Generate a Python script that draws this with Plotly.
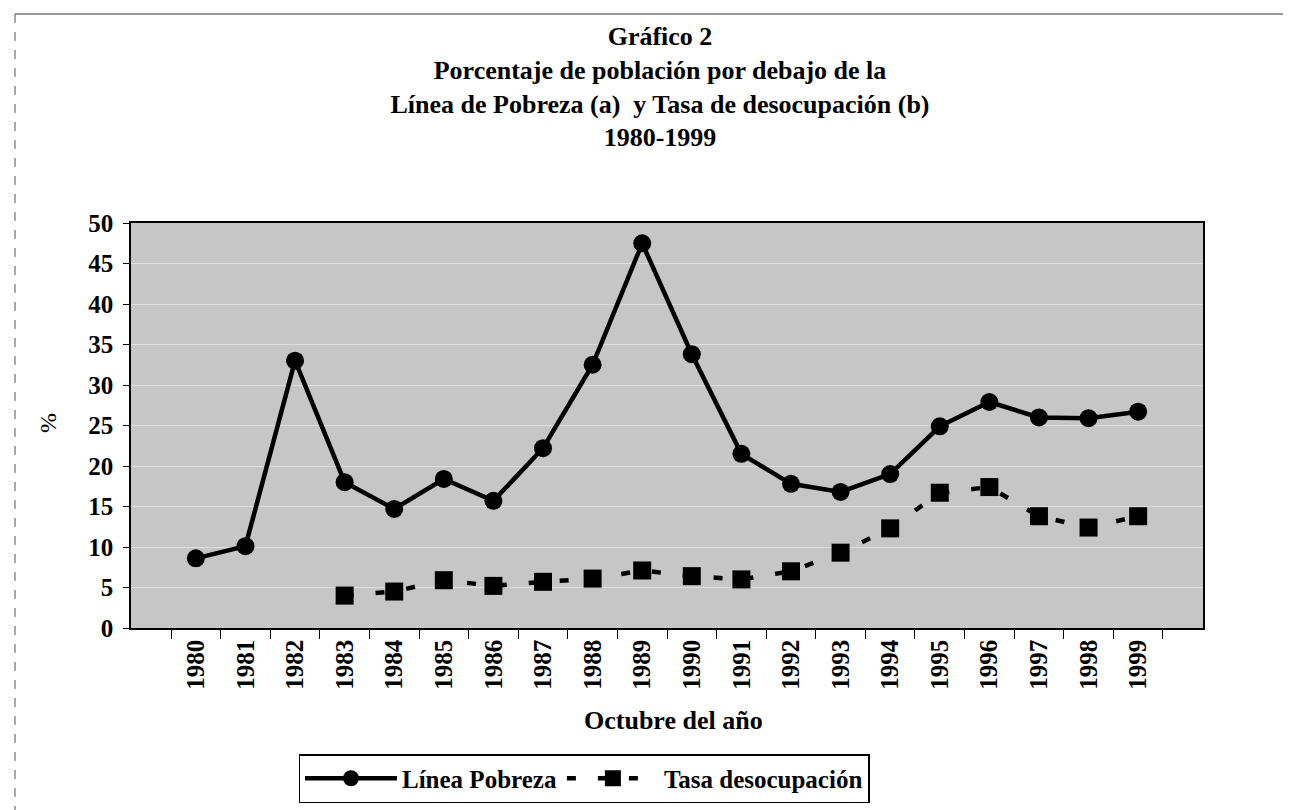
import plotly.graph_objects as go

years = [str(y) for y in range(1980, 2000)]
pobreza = [8.6, 10.1, 33.0, 18.0, 14.7, 18.4, 15.7, 22.2, 32.5, 47.5,
           33.8, 21.5, 17.8, 16.8, 19.0, 24.9, 27.9, 26.0, 25.9, 26.7]
desocupacion = [None, None, None, 4.0, 4.5, 5.9, 5.2, 5.7, 6.1, 7.1,
                6.4, 6.0, 7.0, 9.3, 12.3, 16.7, 17.4, 13.8, 12.4, 13.8]
y_ticks = list(range(0, 55, 5))

title_lines = ["Gráfico 2",
               "Porcentaje de población por debajo de la",
               "Línea de Pobreza (a)  y Tasa de desocupación (b)",
               "1980-1999"]

W, H = 1291, 810
L, R, T, B = 123, 1195, 215, 620
pw, ph = R - L, B - T

def px(x):
    return (x - L) / pw

def py(y):
    return (B - y) / ph

serif = "Liberation Serif"
tickfont = dict(family=serif, size=25, color="black", weight="bold")

fig = go.Figure()
fig.add_trace(go.Scatter(
    x=years, y=pobreza, name="Línea Pobreza", mode="lines+markers",
    line=dict(color="black", width=4.5),
    marker=dict(symbol="circle", size=18, color="black"),
))
fig.add_trace(go.Scatter(
    x=years, y=desocupacion, name="Tasa desocupación", mode="lines+markers",
    line=dict(color="black", width=4.5, dash="9px,22px"),
    marker=dict(symbol="square", size=18, color="black"),
    connectgaps=False,
))

fig.update_layout(
    width=W, height=H,
    margin=dict(l=L, r=W - R, t=T, b=H - B, autoexpand=False),
    paper_bgcolor="white",
    plot_bgcolor="#c6c6c6",
    title=dict(
        text="<br>".join(title_lines),
        font=dict(family=serif, size=26, color="black", weight="bold"),
        x=px(652), xref="paper", xanchor="center",
        y=1 - 37 / H, yref="container", yanchor="top",
    ),
    xaxis=dict(
        type="category", tickangle=-90, tickfont=tickfont,
        showline=True, linecolor="black", linewidth=1.5, mirror=True,
        ticks="outside", ticklen=9, tickcolor="black", tickson="boundaries",
        showgrid=False, automargin=False,
    ),
    yaxis=dict(
        range=[0, 50], tickvals=y_ticks, tickfont=tickfont,
        showline=True, linecolor="black", linewidth=1.5, mirror=True,
        ticks="outside", ticklen=6, tickcolor="black", ticklabelstandoff=5,
        showgrid=True, gridcolor="#dedede", gridwidth=1, zeroline=False,
        automargin=False,
    ),
    showlegend=True,
    legend=dict(
        orientation="h", x=px(576), xanchor="center", y=py(746), yanchor="top",
        font=dict(family=serif, size=25, color="black", weight="bold"),
        bordercolor="black", borderwidth=1.5, bgcolor="white",
        itemwidth=92, traceorder="normal",
    ),
    annotations=[
        dict(text="%", x=px(40), y=py(415), xref="paper", yref="paper",
             textangle=-90, showarrow=False, xanchor="center", yanchor="middle",
             font=dict(family=serif, size=24, color="black")),
        dict(text="Octubre del año", x=px(665), y=py(712), xref="paper", yref="paper",
             showarrow=False, xanchor="center", yanchor="middle",
             font=dict(family=serif, size=26, color="black", weight="bold")),
    ],
    shapes=[
        dict(type="line", xref="paper", yref="paper", x0=px(7), x1=px(1287),
             y0=py(6), y1=py(6), line=dict(color="#333", width=1)),
        dict(type="line", xref="paper", yref="paper", x0=px(7), x1=px(7),
             y0=py(6), y1=py(810), line=dict(color="#555", width=1, dash="dash")),
        dict(type="line", xref="paper", yref="paper", x0=px(1287), x1=px(1287),
             y0=py(6), y1=py(810), line=dict(color="#555", width=1)),
    ],
)

fig.write_html("out.html")
